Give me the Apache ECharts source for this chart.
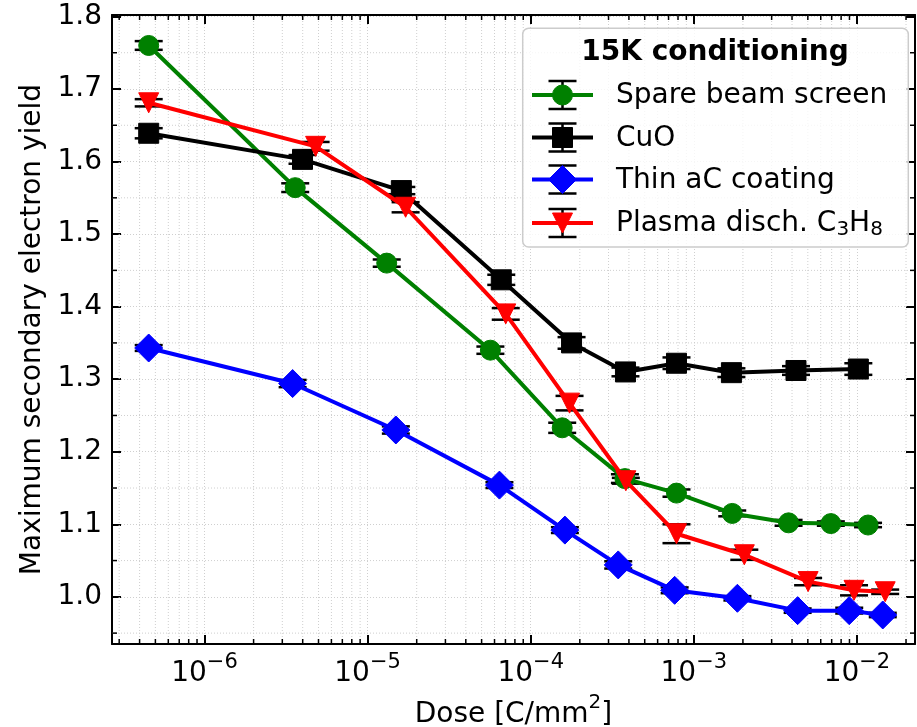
<!DOCTYPE html>
<html><head><meta charset="utf-8">
<script src="https://cdn.jsdelivr.net/npm/echarts@6/dist/echarts.min.js"></script>
<style>html,body{margin:0;padding:0;background:#fff}#c{width:917px;height:727px}</style>
</head><body><div id="c"></div><script>
// ---------- data ----------
const legendTitle = '15K conditioning';
const seriesNames = ['Spare beam screen', 'CuO', 'Thin aC coating', 'Plasma disch. C₃H₈'];

const spareDose = [4.55e-7, 3.6e-6, 1.31e-5, 5.66e-5, 1.56e-4, 3.78e-4, 7.83e-4, 1.72e-3, 3.81e-3, 6.92e-3, 1.17e-2];
const spareSEY  = [1.760, 1.564, 1.460, 1.340, 1.233, 1.163, 1.143, 1.115, 1.102, 1.101, 1.099];
const spareErr  = [0.006, 0.006, 0.005, 0.005, 0.007, 0.006, 0.005, 0.004, 0.004, 0.003, 0.003];

const cuoDose = [4.55e-7, 3.99e-6, 1.61e-5, 6.6e-5, 1.78e-4, 3.81e-4, 7.83e-4, 1.70e-3, 4.23e-3, 1.02e-2];
const cuoSEY  = [1.639, 1.603, 1.560, 1.437, 1.350, 1.310, 1.322, 1.309, 1.312, 1.314];
const cuoErr  = [0.007, 0.006, 0.005, 0.007, 0.008, 0.006, 0.008, 0.006, 0.006, 0.008];

const acDose = [4.55e-7, 3.47e-6, 1.49e-5, 6.43e-5, 1.62e-4, 3.44e-4, 7.63e-4, 1.85e-3, 4.33e-3, 8.97e-3, 1.44e-2];
const acSEY  = [1.343, 1.294, 1.230, 1.154, 1.092, 1.044, 1.009, 0.998, 0.981, 0.981, 0.975];
const acErr  = [0.004, 0.005, 0.005, 0.004, 0.004, 0.005, 0.004, 0.003, 0.003, 0.004, 0.003];

const plasmaDose = [4.55e-7, 4.8e-6, 1.71e-5, 7.03e-5, 1.73e-4, 3.83e-4, 7.83e-4, 2.04e-3, 5.02e-3, 9.6e-3, 1.49e-2];
const plasmaSEY  = [1.681, 1.621, 1.537, 1.390, 1.267, 1.160, 1.087, 1.058, 1.021, 1.009, 1.007];
const plasmaErr  = [0.005, 0.006, 0.007, 0.008, 0.010, 0.004, 0.013, 0.007, 0.005, 0.007, 0.003];

const xTickExponents = [-6, -5, -4, -3, -2];
const yTickLabels = ['1.0', '1.1', '1.2', '1.3', '1.4', '1.5', '1.6', '1.7', '1.8'];
const yAxisName = 'Maximum secondary electron yield';

// ---------- styling / layout ----------
const FONT = 'DejaVu Sans';
const X_MIN = 2.71e-7, X_MAX = 2.27e-2;
const Y_MIN = 0.935, Y_MAX = 1.802;
const colors = ['#008000', '#000000', '#0000ff', '#ff0000'];
const symbols = ['circle', 'rect', 'diamond', 'triangle'];
const symbolSizes = [20, 20, 28, 20];
const symbolRotates = [0, 0, 0, 180];

const doses = [spareDose, cuoDose, acDose, plasmaDose];
const seys = [spareSEY, cuoSEY, acSEY, plasmaSEY];
const errs = [spareErr, cuoErr, acErr, plasmaErr];

const xMinorTicks = [];
for (let d = -7; d <= -2; d++) for (let k = 2; k <= 9; k++) {
  const v = k * Math.pow(10, d);
  if (v > X_MIN && v < X_MAX) xMinorTicks.push(v);
}
const yMinorTicks = [];
for (let i = 0; i < 9; i++) { const v = 0.95 + i * 0.1; if (v > Y_MIN && v < Y_MAX) yMinorTicks.push(+v.toFixed(2)); }

const gridStyle = { stroke: '#cfcfcf', lineWidth: 1, lineDash: [1, 2] };
const tickStyle = { stroke: '#000', lineWidth: 1.5 };

function renderXMinor(params, api) {
  const x = api.coord([api.value(0), 1.2])[0];
  const cs = params.coordSys;
  return { type: 'group', children: [
    { type: 'line', shape: { x1: x, y1: cs.y, x2: x, y2: cs.y + cs.height }, style: gridStyle },
    { type: 'line', shape: { x1: x, y1: cs.y + cs.height, x2: x, y2: cs.y + cs.height - 5 }, style: tickStyle },
    { type: 'line', shape: { x1: x, y1: cs.y, x2: x, y2: cs.y + 5 }, style: tickStyle }
  ]};
}
function renderYMinor(params, api) {
  const y = api.coord([1e-4, api.value(1)])[1];
  const cs = params.coordSys;
  return { type: 'group', children: [
    { type: 'line', shape: { x1: cs.x, y1: y, x2: cs.x + cs.width, y2: y }, style: gridStyle },
    { type: 'line', shape: { x1: cs.x, y1: y, x2: cs.x + 5, y2: y }, style: tickStyle },
    { type: 'line', shape: { x1: cs.x + cs.width, y1: y, x2: cs.x + cs.width - 5, y2: y }, style: tickStyle }
  ]};
}
function renderErr(params, api) {
  const x = api.value(0), y = api.value(1), e = api.value(2);
  const p1 = api.coord([x, y - e]), p2 = api.coord([x, y + e]);
  const hw = 14, st = { stroke: '#000', lineWidth: 2.5 };
  return { type: 'group', children: [
    { type: 'line', shape: { x1: p1[0], y1: p1[1], x2: p2[0], y2: p2[1] }, style: st },
    { type: 'line', shape: { x1: p1[0] - hw, y1: p1[1], x2: p1[0] + hw, y2: p1[1] }, style: st },
    { type: 'line', shape: { x1: p2[0] - hw, y1: p2[1], x2: p2[0] + hw, y2: p2[1] }, style: st }
  ]};
}

const series = [
  { type: 'custom', name: 'xminor', silent: true, z: 1, renderItem: renderXMinor,
    encode: { x: 0, y: 1 }, data: xMinorTicks.map(v => [v, 1.2]) },
  { type: 'custom', name: 'yminor', silent: true, z: 1, renderItem: renderYMinor,
    encode: { x: 0, y: 1 }, data: yMinorTicks.map(v => [1e-4, v]) }
];
for (let i = 0; i < 4; i++) {
  series.push({ type: 'custom', name: seriesNames[i] + ' err', silent: true, z: 2,
    renderItem: renderErr, encode: { x: 0, y: 1 },
    data: doses[i].map((d, j) => [d, seys[i][j], errs[i][j]]) });
}
for (let i = 0; i < 4; i++) {
  series.push({
    type: 'line', name: seriesNames[i], z: 3 + i * 0.01,
    data: doses[i].map((d, j) => [d, seys[i][j]]),
    symbol: symbols[i], symbolSize: symbolSizes[i], symbolRotate: symbolRotates[i],
    showSymbol: true, showAllSymbol: true,
    lineStyle: { color: colors[i], width: 4 },
    itemStyle: { color: colors[i], borderColor: colors[i], borderWidth: 1 },
    emphasis: { disabled: true }, animation: false
  });
}

// legend graphics
const subMap = { '₀': '0', '₁': '1', '₂': '2', '₃': '3', '₄': '4', '₅': '5', '₆': '6', '₇': '7', '₈': '8', '₉': '9' };
function toRich(name) { return name.replace(/[₀-₉]/g, c => '{s|' + subMap[c] + '}'); }
const L = { x: 522.7, y: 28.3, w: 385.6, h: 218.7 };
const rowsY = [95, 137.5, 179.5, 223];
const hx0 = 532, hx1 = 593, hxc = 562.5;
const graphics = [
  { type: 'rect', z: 100, shape: { x: L.x, y: L.y, width: L.w, height: L.h, r: 6 },
    style: { fill: 'rgba(255,255,255,0.8)', stroke: '#cccccc', lineWidth: 1.5 } },
  { type: 'text', z: 101, x: 715, y: 53,
    style: { text: legendTitle, font: 'bold 28px "DejaVu Sans"', fill: '#000',
      textAlign: 'center', align: 'center', textVerticalAlign: 'middle', verticalAlign: 'middle' } }
];
function markerGraphic(i, cx, cy) {
  const st = { fill: colors[i], stroke: colors[i], lineWidth: 1 };
  if (i === 0) return { type: 'circle', z: 103, shape: { cx, cy, r: 10 }, style: st };
  if (i === 1) return { type: 'rect', z: 103, shape: { x: cx - 10, y: cy - 10, width: 20, height: 20 }, style: st };
  if (i === 2) return { type: 'polygon', z: 103, shape: { points: [[cx, cy - 14], [cx + 14, cy], [cx, cy + 14], [cx - 14, cy]] }, style: st };
  return { type: 'polygon', z: 103, shape: { points: [[cx - 10, cy - 10], [cx + 10, cy - 10], [cx, cy + 10]] }, style: st };
}
for (let i = 0; i < 4; i++) {
  const cy = rowsY[i];
  const eb = { stroke: '#000', lineWidth: 2.5 };
  graphics.push(
    { type: 'line', z: 102, shape: { x1: hxc, y1: cy - 14, x2: hxc, y2: cy + 14 }, style: eb },
    { type: 'line', z: 102, shape: { x1: hxc - 14, y1: cy - 14, x2: hxc + 14, y2: cy - 14 }, style: eb },
    { type: 'line', z: 102, shape: { x1: hxc - 14, y1: cy + 14, x2: hxc + 14, y2: cy + 14 }, style: eb },
    { type: 'line', z: 102, shape: { x1: hx0, y1: cy, x2: hx1, y2: cy }, style: { stroke: colors[i], lineWidth: 4 } },
    markerGraphic(i, hxc, cy),
    { type: 'text', z: 103, x: 616, y: cy + 1,
      style: { text: toRich(seriesNames[i]), font: '28px "DejaVu Sans"', fill: '#000',
        textAlign: 'left', align: 'left', textVerticalAlign: 'middle', verticalAlign: 'middle',
        rich: { s: { fontSize: 20, fontFamily: FONT, fill: '#000', color: '#000', padding: [12, 0, 0, 0], verticalAlign: 'bottom' } } } }
  );
}

const axisLineStyle = { show: true, onZero: false, lineStyle: { color: '#000', width: 2 } };
const majorTick = { show: true, inside: true, length: 9, lineStyle: { color: '#000', width: 2 } };
const splitLineStyle = { show: true, lineStyle: { color: '#cfcfcf', width: 1, type: [1, 2] } };

const option = {
  backgroundColor: '#fff',
  animation: false,
  grid: { left: 112, right: 2, top: 15, bottom: 83, containLabel: false, outerBoundsMode: 'none' },
  xAxis: [
    { type: 'log', logBase: 10, min: X_MIN, max: X_MAX, position: 'bottom', splitNumber: 5,
      name: '{a|Dose [C/mm}{s|2}{a|]}', nameLocation: 'middle', nameGap: 48,
      nameTextStyle: { rich: {
        a: { fontSize: 28, fontFamily: FONT, color: '#000', padding: [8, 0, 0, 0], verticalAlign: 'bottom' },
        s: { fontSize: 20, fontFamily: FONT, color: '#000', verticalAlign: 'top' } } },
      axisLine: axisLineStyle, axisTick: majorTick, splitLine: splitLineStyle,
      axisLabel: { margin: 8, showMinLabel: false, showMaxLabel: false,
        formatter: function (v) {
          const lg = Math.log10(v), e = Math.round(lg);
          if (Math.abs(lg - e) > 1e-6 || xTickExponents.indexOf(e) < 0) return '';
          return '{b|10}{s|−' + (-e) + '}';
        },
        rich: {
          b: { fontSize: 28, fontFamily: FONT, color: '#000', padding: [8, 0, 0, 0], verticalAlign: 'bottom' },
          s: { fontSize: 21, fontFamily: FONT, color: '#000', verticalAlign: 'top' } } } },
    { type: 'log', logBase: 10, min: X_MIN, max: X_MAX, position: 'top', splitNumber: 5,
      axisLine: axisLineStyle, axisTick: majorTick, splitLine: { show: false }, axisLabel: { show: false } }
  ],
  yAxis: [
    { type: 'value', min: Y_MIN, max: Y_MAX, splitNumber: 8, position: 'left',
      name: yAxisName, nameLocation: 'middle', nameGap: 64,
      nameTextStyle: { fontSize: 28, fontFamily: FONT, color: '#000' },
      axisLine: axisLineStyle, axisTick: majorTick, splitLine: splitLineStyle,
      axisLabel: { margin: 10, fontSize: 28, fontFamily: FONT, color: '#000', showMinLabel: false, showMaxLabel: false,
        formatter: function (v) {
          const s = v.toFixed(1);
          return (Math.abs(v - parseFloat(s)) < 1e-6 && yTickLabels.indexOf(s) >= 0) ? s : '';
        } } },
    { type: 'value', min: Y_MIN, max: Y_MAX, splitNumber: 8, position: 'right',
      axisLine: axisLineStyle, axisTick: majorTick, splitLine: { show: false }, axisLabel: { show: false } }
  ],
  series: series,
  graphic: { elements: graphics }
};

const chart = echarts.init(document.getElementById('c'), null, { renderer: 'canvas' });
chart.setOption(option);
</script></body></html>
